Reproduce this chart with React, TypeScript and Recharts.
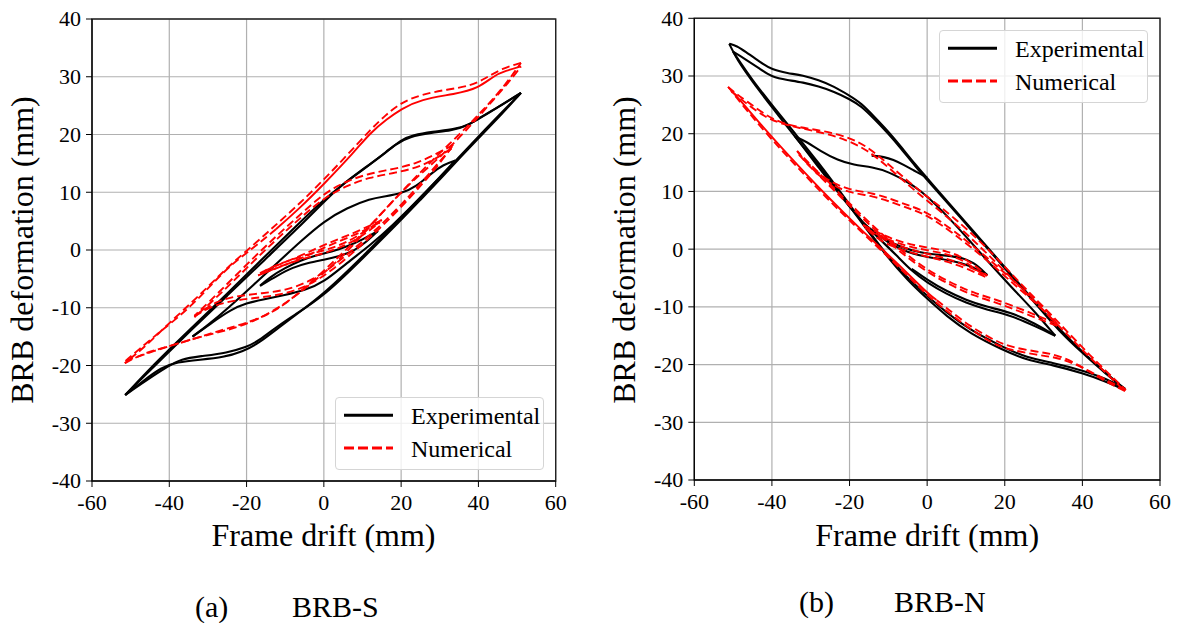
import React from 'react';
import { LineChart, Line, XAxis, YAxis, CartesianGrid, ReferenceArea } from 'recharts';

type Pt = [number, number];

const xTicks = [-60, -40, -20, 0, 20, 40, 60];
const yTicks = [-40, -30, -20, -10, 0, 10, 20, 30, 40];

// ---- (a) BRB-S, experimental (black) ----
const sExpBig1: Pt[] = [
  [-51.4, -25.1], [-46, -22.6], [-40, -20.0], [-37, -18.9], [-32, -18.4], [-25, -17.8], [-20, -16.8],
  [-17, -15.8], [-12, -13.2], [-8, -11.4], [0, -8.0], [10, -1.5], [20, 5.2], [25, 8.7], [30, 12.2],
  [40, 19.4], [46, 23.5], [51, 27.2], [46, 25.1], [42, 23.5], [38, 21.8], [34, 20.9], [28, 20.5],
  [23, 19.9], [20, 19.1], [16, 16.9], [12, 14.9], [4, 11.0], [0, 8.3], [-7, 3.6], [-15, -1.5],
  [-25, -7.9], [-35, -14.3], [-42, -18.9], [-48, -22.8], [-51.4, -25.1],
];
const sExpBig2: Pt[] = [
  [-51.4, -25.1], [-47, -22.8], [-42, -20.3], [-38, -19.4], [-32, -19.0], [-26, -18.6], [-21, -17.6],
  [-17, -16.2], [-12, -13.6], [-6, -10.6], [0, -7.6], [10, -1.2], [20, 5.6], [30, 12.5], [40, 19.7],
  [51, 27.2], [45, 24.7], [41, 23.2], [37, 21.4], [33, 20.7], [28, 20.3], [22, 19.6], [19, 18.5],
  [14, 15.8], [6, 11.9], [0, 8.8], [-8, 3.6], [-16, -1.6], [-26, -8.2], [-36, -14.6], [-44, -19.8],
  [-51.4, -25.1],
];
const sExpMid: Pt[] = [
  [-34, -15.0], [-29, -12.6], [-24, -10.3], [-20, -9.2], [-16, -8.6], [-10, -7.8], [-5, -7.0], [0, -5.6],
  [6, -2.2], [12, 0.8], [18, 4.4], [24, 8.4], [30, 12.6], [34, 15.5], [31, 14.8], [28, 13.4], [24, 11.0],
  [20, 9.8], [16, 9.3], [12, 8.9], [6, 7.3], [0, 5.0], [-6, 1.5], [-12, -2.2], [-18, -5.9], [-25, -10.2],
  [-30, -13.0], [-34, -15.0],
];
const sExpSmall: Pt[] = [
  [-16.5, -6.2], [-12, -4.4], [-8, -3.0], [-4, -2.2], [0, -1.7], [4, -1.1], [8, -0.1], [11, 1.4], [14, 3.3],
  [10, 1.8], [6, 0.6], [2, -0.3], [-2, -0.9], [-6, -1.8], [-10, -3.1], [-14, -4.7], [-16.5, -6.2],
];

// ---- (a) BRB-S, numerical (red) ----
const sNumBigUpper: Pt[] = [
  [51, 31.8], [47, 31.0], [44, 30.2], [40, 28.0], [34, 27.0], [25, 26.1], [20, 24.4], [16.4, 22.7],
  [12, 20.3], [7.8, 16.9], [0, 11.4], [-6, 7.4], [-12.4, 3.6],
];
const sNumBigRest: Pt[] = [
  [-12.4, 3.6], [-18.5, 0.2], [-25.4, -3.2], [-34, -9.7], [-42.7, -14.3], [-48, -17.3], [-51.3, -19.2],
  [-48.7, -18.6], [-44, -17.5], [-38.4, -16.3], [-31.4, -14.9], [-23.7, -13.7], [-16.7, -12.0],
  [-8.1, -8.5], [0, -4.0], [5, -1.0], [10, 2.6], [15, 6.4], [20, 10.0], [25, 13.2], [30, 16.0],
  [38, 21.5], [44, 26.1], [49.3, 30.2], [51, 31.8],
];
const sNumBig2: Pt[] = [
  [51, 32.4], [46, 31.4], [42, 29.8], [38, 28.4], [32, 27.8], [25, 26.9], [20, 25.5], [16, 23.4],
  [12, 20.8], [6, 16.4], [0, 12.2], [-6, 8.2], [-12, 4.6], [-18, 1.0], [-25, -3.0], [-33, -8.4],
  [-40, -12.6], [-46, -16.6], [-51.5, -19.6], [-47, -18.0], [-42, -17.0], [-36, -15.9], [-30, -14.6],
  [-24, -13.4], [-18, -12.2], [-12, -10.4], [-6, -7.2], [0, -3.6], [6, 0.2], [12, 4.2], [18, 8.6],
  [24, 12.8], [30, 16.8], [36, 20.6], [42, 24.8], [47, 28.6], [51, 32.4],
];
const sNumMid1: Pt[] = [
  [33, 17.6], [29, 15.8], [24, 14.2], [18, 13.3], [12, 12.6], [6, 11.2], [0, 9.0], [-6, 5.6], [-12, 2.0],
  [-18, -1.8], [-24, -5.8], [-30, -9.6], [-33.5, -11.6], [-28, -8.8], [-22, -7.9], [-16, -7.5],
  [-10, -7.0], [-4, -5.6], [2, -3.0], [8, 0.3], [14, 3.8], [20, 7.8], [26, 12.2], [30, 15.4], [33, 17.6],
];
const sNumMid2: Pt[] = [
  [33.5, 18.2], [29, 16.6], [24, 15.0], [18, 14.0], [12, 13.3], [6, 12.0], [0, 9.8], [-6, 6.2], [-12, 2.6],
  [-18, -1.2], [-24, -5.2], [-30, -9.2], [-33.5, -11.4], [-28, -9.4], [-22, -8.6], [-16, -8.2],
  [-10, -7.6], [-4, -6.2], [2, -3.6], [8, -0.2], [14, 3.4], [20, 7.4], [26, 11.8], [30, 15.0], [33.5, 18.2],
];
const sNumSmall1: Pt[] = [
  [-17, -4.4], [-12, -3.0], [-6, -1.6], [0, -0.6], [5, 0.6], [10, 2.4], [14.5, 4.8], [10, 3.2], [5, 1.8],
  [0, 0.4], [-5, -1.2], [-10, -2.6], [-14, -3.6], [-17, -4.4],
];
const sNumSmall2: Pt[] = [
  [-16.5, -4.0], [-12, -2.5], [-6, -1.1], [0, -0.1], [5, 1.0], [10, 2.9], [15, 5.2], [10, 3.6], [5, 2.2],
  [0, 0.9], [-5, -0.7], [-10, -2.1], [-14, -3.2], [-16.5, -4.0],
];

// ---- (b) BRB-N, experimental (black) ----
const nExpBig1: Pt[] = [
  [-51, 35.6], [-49, 35.2], [-47, 34.3], [-43, 32.4], [-40, 31.1], [-36, 30.5], [-32, 30.1], [-28, 29.3],
  [-24, 28.2], [-20, 26.6], [-17, 25.3], [-13.7, 23.0], [-10, 20.4], [-6.8, 17.8], [-3, 14.6], [0, 12.3],
  [10, 4.6], [20, -3.1], [28, -9.3], [34.2, -14.0], [40, -17.8], [46, -21.4], [51, -24.4], [46, -22.9],
  [40.2, -21.5], [32.5, -20.1], [25.6, -19.2], [19.6, -17.5], [11, -14.6], [5, -11.6], [0, -8.6],
  [-5, -5.4], [-10, -1.6], [-16, 3.8], [-22, 9.3], [-28, 14.6], [-34, 19.4], [-40, 24.6], [-45, 29.0],
  [-49, 32.8], [-51, 35.6],
];
const nExpBig2: Pt[] = [
  [-50, 34.2], [-47, 33.0], [-43, 31.2], [-40, 29.8], [-36, 29.3], [-32, 28.9], [-28, 28.2], [-24, 27.3],
  [-20, 26.0], [-17, 24.8], [-13.7, 22.6], [-10, 20.0], [-6.8, 17.5], [-3, 14.3], [0, 12.0], [10, 4.4],
  [20, -3.3], [28, -9.5], [34, -14.2], [40, -18.0], [46, -21.6], [51, -24.2], [46, -22.4], [40, -21.0],
  [32.5, -19.7], [25.6, -18.8], [19.6, -17.0], [11, -14.0], [5, -11.0], [0, -8.1], [-5, -5.0],
  [-10, -1.4], [-16, 4.0], [-22, 9.6], [-28, 15.0], [-34, 20.0], [-40, 25.0], [-45, 29.2], [-50, 34.2],
];
const nExpMid: Pt[] = [
  [-34, 19.5], [-31, 18.6], [-27.5, 17.0], [-23, 15.4], [-19, 14.6], [-14, 14.2], [-10, 13.4], [-6, 12.0],
  [-2, 10.4], [4, 6.6], [10, 2.2], [16, -2.4], [22, -6.8], [28, -11.0], [33, -15.0], [28, -13.4],
  [21.3, -11.4], [15.3, -10.5], [10, -9.3], [5, -7.8], [0, -5.8], [-4, -3.8], [-8, -1.0], [-12, 1.6],
  [-16.5, 4.5], [-22, 9.0], [-28, 14.2], [-34, 19.5],
];
const nExpMid2: Pt[] = [
  [33, -15.0], [28, -12.9], [21.3, -10.9], [15.3, -10.0], [10, -8.8], [5, -7.3], [0, -5.3], [-4, -3.4],
];
const nExpSmall: Pt[] = [
  [-16.5, 4.5], [-12, 2.0], [-7, 0.4], [-2, -0.6], [3, -1.0], [8, -1.3], [12, -2.2], [15.5, -4.5],
  [11, -2.8], [6, -1.9], [0, -1.4], [-5, -0.6], [-10, 1.0], [-16.5, 4.5],
];
const nExpStart: Pt[] = [
  [-14.3, 16.2], [-11, 16.0], [-8.8, 15.5], [-6, 14.6], [-3.6, 13.7], [0, 12.4],
];

// ---- (b) BRB-N, numerical (red) ----
const nNumBigLower: Pt[] = [
  [2.4, -8.8], [0, -7.6], [-8, -2.2], [-17, 3.3], [-26, 9.3], [-34, 15.0], [-42, 20.9], [-48, 25.7],
  [-51.3, 28.1],
];
const nNumBigRest: Pt[] = [
  [-51.3, 28.1], [-49, 26.8], [-46.4, 25.6], [-43, 23.9], [-39.5, 22.4], [-34.3, 21.2], [-27.4, 20.6],
  [-20.6, 19.5], [-15.4, 17.8], [-10.3, 14.9], [-4.3, 11.4], [0, 9.1], [6.7, 5.6], [15.3, 0.4],
  [23.9, -5.9], [32.5, -11.7], [42, -18.5], [51.2, -24.4], [46, -22.6], [41.1, -20.9], [34.2, -18.3],
  [28.2, -17.8], [21.3, -16.9], [17.9, -16.0], [11, -13.4], [5, -10.2], [2.4, -8.8],
];
const nNumBig2: Pt[] = [
  [-50.5, 27.4], [-46, 24.9], [-42, 23.0], [-38, 21.8], [-33, 21.0], [-27, 20.2], [-21, 19.0],
  [-15.4, 17.2], [-10, 14.2], [-4, 10.6], [0, 8.4], [7, 4.6], [15, -0.4], [24, -6.6], [33, -12.6],
  [42, -18.9], [51, -24.6], [45, -22.6], [40, -20.4], [34, -18.8], [28, -18.3], [21, -17.4], [17, -16.4],
  [10, -13.4], [3, -9.6], [0, -8.0], [-8, -2.6], [-17, 3.0], [-26, 8.9], [-34, 14.6], [-42, 20.4],
  [-50.5, 27.4],
];
const nNumMid1: Pt[] = [
  [-33.5, 17.0], [-31.7, 15.4], [-28, 13.2], [-25.7, 12.0], [-20.6, 10.3], [-13.7, 9.7], [-8.6, 8.5],
  [-4, 7.4], [0, 6.4], [6.7, 3.3], [15.3, -1.3], [23.9, -6.5], [30.8, -10.5], [33.5, -13.0], [28, -11.4],
  [22, -9.8], [18, -8.8], [12, -7.6], [6, -5.8], [0, -3.6], [-6, -0.6], [-12, 2.8], [-18, 6.6],
  [-24, 10.6], [-30, 14.6], [-33.5, 17.0],
];
const nNumMid2: Pt[] = [
  [-33, 16.4], [-31, 14.8], [-28, 12.8], [-25, 11.4], [-20.6, 9.8], [-13.7, 9.2], [-8.6, 8.0], [-4, 6.9],
  [0, 5.9], [6.7, 2.8], [15.3, -1.8], [23.9, -7.0], [30.8, -11.0], [33.5, -13.3], [28, -11.9],
  [22, -10.3], [18, -9.3], [12, -8.1], [6, -6.2], [0, -4.0], [-6, -1.0], [-12, 2.4], [-18, 6.2],
  [-24, 10.2], [-30, 14.2], [-33, 16.4],
];
const nNumSmall1: Pt[] = [
  [-16.5, 4.2], [-12, 2.6], [-6, 1.0], [0, 0.3], [5, -0.3], [10, -1.6], [15.5, -4.6], [10, -2.8],
  [5, -1.6], [0, -0.8], [-6, 0.2], [-12, 1.8], [-16.5, 4.2],
];
const nNumSmall2: Pt[] = [
  [-16, 3.7], [-12, 2.2], [-6, 0.6], [0, -0.2], [5, -0.8], [10, -2.1], [15, -4.8], [10, -3.3],
  [5, -2.1], [0, -1.3], [-6, -0.3], [-12, 1.3], [-16, 3.7],
];

const FONT = '"Liberation Serif", "Times New Roman", Times, serif';
const RED = '#ff0000';
const DASH = '8 4';

type Kind = 'exp' | 'num' | 'numSolid';
type Series = { id: string; pts: Pt[]; kind: Kind };

const seriesS: Series[] = [
  { id: 'sExpBig1', pts: sExpBig1, kind: 'exp' },
  { id: 'sExpBig2', pts: sExpBig2, kind: 'exp' },
  { id: 'sExpMid', pts: sExpMid, kind: 'exp' },
  { id: 'sExpSmall', pts: sExpSmall, kind: 'exp' },
  { id: 'sNumBigUpper', pts: sNumBigUpper, kind: 'numSolid' },
  { id: 'sNumBigRest', pts: sNumBigRest, kind: 'num' },
  { id: 'sNumBig2', pts: sNumBig2, kind: 'num' },
  { id: 'sNumMid1', pts: sNumMid1, kind: 'num' },
  { id: 'sNumMid2', pts: sNumMid2, kind: 'num' },
  { id: 'sNumSmall1', pts: sNumSmall1, kind: 'num' },
  { id: 'sNumSmall2', pts: sNumSmall2, kind: 'num' },
];

const seriesN: Series[] = [
  { id: 'nExpBig1', pts: nExpBig1, kind: 'exp' },
  { id: 'nExpBig2', pts: nExpBig2, kind: 'exp' },
  { id: 'nExpMid', pts: nExpMid, kind: 'exp' },
  { id: 'nExpMid2', pts: nExpMid2, kind: 'exp' },
  { id: 'nExpSmall', pts: nExpSmall, kind: 'exp' },
  { id: 'nExpStart', pts: nExpStart, kind: 'exp' },
  { id: 'nNumBigLower', pts: nNumBigLower, kind: 'numSolid' },
  { id: 'nNumBigRest', pts: nNumBigRest, kind: 'num' },
  { id: 'nNumBig2', pts: nNumBig2, kind: 'num' },
  { id: 'nNumMid1', pts: nNumMid1, kind: 'num' },
  { id: 'nNumMid2', pts: nNumMid2, kind: 'num' },
  { id: 'nNumSmall1', pts: nNumSmall1, kind: 'num' },
  { id: 'nNumSmall2', pts: nNumSmall2, kind: 'num' },
];

// split a loop into branches wherever the drift reverses, so each branch can be smoothed
// without rounding off the loop tips
function branches(pts: Pt[]): Pt[][] {
  const out: Pt[][] = [];
  let cur: Pt[] = [pts[0]];
  for (let i = 1; i < pts.length; i++) {
    cur.push(pts[i]);
    if (i < pts.length - 1) {
      const d1 = pts[i][0] - pts[i - 1][0];
      const d2 = pts[i + 1][0] - pts[i][0];
      if (d1 * d2 < 0) {
        out.push(cur);
        cur = [pts[i]];
      }
    }
  }
  out.push(cur);
  return out;
}

const toRows = (pts: Pt[]) => pts.map(([x, y]) => ({ x, y }));

const tickText: React.CSSProperties = { fontFamily: FONT, fontSize: 22, fill: '#000' };

const XTick = (props: any) => (
  <text x={props.x} y={props.y} dy="0.72em" textAnchor="middle" style={tickText}>
    {props.payload.value}
  </text>
);

const YTick = (props: any) => (
  <text x={props.x} y={props.y} dy="0.34em" textAnchor="end" style={tickText}>
    {props.payload.value}
  </text>
);

function Panel({ series, width, margin }: { series: Series[]; width: number; margin: any }) {
  const lines: { key: string; pts: Pt[]; kind: Kind }[] = [];
  series.forEach((s) => {
    branches(s.pts).forEach((b, i) => lines.push({ key: `${s.id}-${i}`, pts: b, kind: s.kind }));
  });
  return (
    <LineChart width={width} height={560} margin={margin}>
      <CartesianGrid stroke="#b0b0b0" strokeWidth={1.2} />
      <XAxis
        type="number"
        dataKey="x"
        domain={[-60, 60]}
        ticks={xTicks}
        interval={0}
        allowDataOverflow
        height={30}
        tick={XTick}
        tickSize={6}
        tickMargin={7}
        stroke="#000"
      />
      <YAxis
        type="number"
        domain={[-40, 40]}
        ticks={yTicks}
        interval={0}
        allowDataOverflow
        width={60}
        tick={YTick}
        tickSize={6}
        tickMargin={5}
        stroke="#000"
      />
      <ReferenceArea x1={-60} x2={60} y1={-40} y2={40} fill="none" stroke="#222" strokeWidth={1.4} />
      {lines.map((l) => (
        <Line
          key={l.key}
          data={toRows(l.pts)}
          dataKey="y"
          type="basis"
          dot={false}
          activeDot={false}
          isAnimationActive={false}
          stroke={l.kind === 'exp' ? '#000' : RED}
          strokeWidth={l.kind === 'exp' ? 2.1 : 1.9}
          strokeDasharray={l.kind === 'num' ? DASH : undefined}
          strokeLinejoin="round"
        />
      ))}
    </LineChart>
  );
}

function LegendBox({ left, top }: { left: number; top: number }) {
  const text: React.CSSProperties = {
    position: 'absolute',
    left: 75,
    fontFamily: FONT,
    fontSize: 24,
    lineHeight: '24px',
    color: '#000',
    whiteSpace: 'nowrap',
  };
  return (
    <div
      style={{
        position: 'absolute',
        left,
        top,
        width: 209,
        height: 73,
        boxSizing: 'border-box',
        border: '1px solid #d5d5d5',
        borderRadius: 4,
        background: 'rgba(255,255,255,0.8)',
      }}
    >
      <svg width={209} height={73} style={{ position: 'absolute', left: 0, top: 0 }}>
        <line x1={8} x2={57} y1={17.3} y2={17.3} stroke="#000" strokeWidth={3} />
        <line x1={8} x2={57} y1={50} y2={50} stroke={RED} strokeWidth={3} strokeDasharray="10 4" />
      </svg>
      <div style={{ ...text, top: 6 }}>Experimental</div>
      <div style={{ ...text, top: 38.5 }}>Numerical</div>
    </div>
  );
}

const axisTitle: React.CSSProperties = {
  position: 'absolute',
  fontFamily: FONT,
  fontSize: 32,
  lineHeight: '32px',
  color: '#000',
  whiteSpace: 'nowrap',
};

function XTitle({ cx }: { cx: number }) {
  return <div style={{ ...axisTitle, left: cx, top: 519, transform: 'translateX(-50%)' }}>Frame drift (mm)</div>;
}

function YTitle({ cx }: { cx: number }) {
  return (
    <div
      style={{
        ...axisTitle,
        left: cx,
        top: 250,
        transform: 'translate(-50%, -50%) rotate(-90deg)',
      }}
    >
      BRB deformation (mm)
    </div>
  );
}

const caption: React.CSSProperties = {
  position: 'absolute',
  fontFamily: FONT,
  fontSize: 30,
  lineHeight: '30px',
  color: '#000',
  whiteSpace: 'nowrap',
};

export default function App() {
  return (
    <div style={{ position: 'absolute', left: 0, top: 0, width: 1182, height: 623, background: '#fff', overflow: 'hidden' }}>
      <div style={{ position: 'absolute', left: 0, top: 0 }}>
        <Panel series={seriesS} width={590} margin={{ top: 19, right: 34.3, bottom: 49, left: 32 }} />
      </div>
      <div style={{ position: 'absolute', left: 600, top: 0 }}>
        <Panel series={seriesN} width={582} margin={{ top: 18.3, right: 22, bottom: 50, left: 34.3 }} />
      </div>

      <YTitle cx={22} />
      <YTitle cx={624} />
      <XTitle cx={323.5} />
      <XTitle cx={927.2} />

      <LegendBox left={335} top={397} />
      <LegendBox left={939} top={30} />

      <div style={{ ...caption, left: 195, top: 592 }}>(a)</div>
      <div style={{ ...caption, left: 292, top: 592 }}>BRB-S</div>
      <div style={{ ...caption, left: 799, top: 587 }}>(b)</div>
      <div style={{ ...caption, left: 894, top: 587 }}>BRB-N</div>
    </div>
  );
}
